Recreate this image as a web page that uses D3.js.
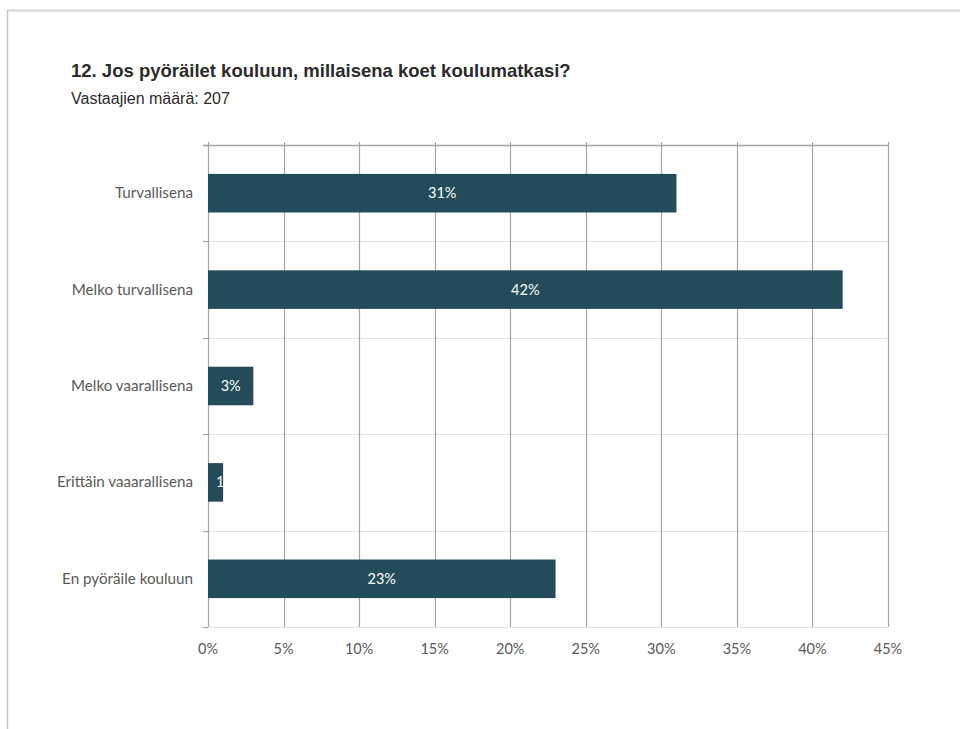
<!DOCTYPE html>
<html>
<head>
<meta charset="utf-8">
<script src="https://cdn.jsdelivr.net/npm/d3@7"></script>
<style>
  html, body { margin: 0; padding: 0; background: #fff; }
  svg { display: block; }
</style>
</head>
<body>
<svg id="chart" width="960" height="729"></svg>
<script>
// Survey answers and their shares (%)
const categories = ["Turvallisena", "Melko turvallisena", "Melko vaarallisena", "Erittäin vaaarallisena", "En pyöräile kouluun"];
const values = [31, 42, 3, 1, 23];
const xTicks = [0, 5, 10, 15, 20, 25, 30, 35, 40, 45];
const titleText = "12. Jos pyöräilet kouluun, millaisena koet koulumatkasi?";
const subtitleText = "Vastaajien määrä: 207";

const svg = d3.select("#chart");
const W = 960, H = 729;
const margin = { left: 208, right: 72, top: 145, bottom: 102 };
const labelFont = "Lato, 'Open Sans', sans-serif";
const textGray = "#595959";
const barColor = "#234B59";

// Page frame
svg.append("line").attr("x1", 7).attr("x2", W).attr("y1", 10.5).attr("y2", 10.5)
  .attr("stroke", "#d6d6d6").attr("stroke-width", 2);
svg.append("line").attr("x1", 7.5).attr("x2", 7.5).attr("y1", 10).attr("y2", H)
  .attr("stroke", "#c6c6c6").attr("stroke-width", 1.5);

// Title and subtitle
svg.append("text").attr("x", 71).attr("y", 77)
  .attr("font-family", "'Liberation Sans', Arial, sans-serif")
  .attr("font-size", 18.5).attr("font-weight", "bold").attr("fill", "#2b2b2b")
  .text(titleText);
svg.append("text").attr("x", 71).attr("y", 104)
  .attr("font-family", "'Liberation Sans', Arial, sans-serif")
  .attr("font-size", 16).attr("fill", "#2b2b2b")
  .text(subtitleText);

const x = d3.scaleLinear().domain([0, 45]).range([margin.left, W - margin.right]);
const y = d3.scaleBand().domain(categories).range([margin.top, H - margin.bottom]).paddingInner(0.6).paddingOuter(0.3);
const band = d3.scaleBand().domain(categories).range([margin.top, H - margin.bottom]);

const g = svg.append("g");

// Horizontal separators between categories
const bounds = categories.map(c => band(c)).concat([H - margin.bottom]);
g.selectAll("line.hsep").data(bounds).join("line")
  .attr("class", "hsep")
  .attr("x1", margin.left - 5).attr("x2", x(45))
  .attr("y1", d => Math.round(d) + 0.5).attr("y2", d => Math.round(d) + 0.5)
  .attr("stroke", (d, i) => i === 0 ? "#a6a6a6" : "#e3e3e3").attr("stroke-width", (d, i) => i === 0 ? 1.5 : 1.2);

// Tick marks on category axis
g.selectAll("line.ctick").data(bounds).join("line")
  .attr("class", "ctick")
  .attr("x1", margin.left - 5).attr("x2", margin.left)
  .attr("y1", d => Math.round(d) + 0.5).attr("y2", d => Math.round(d) + 0.5)
  .attr("stroke", "#a6a6a6").attr("stroke-width", 1.2);

// Vertical gridlines
g.selectAll("line.vgrid").data(xTicks).join("line")
  .attr("class", "vgrid")
  .attr("x1", d => Math.round(x(d)) + 0.5).attr("x2", d => Math.round(x(d)) + 0.5)
  .attr("y1", margin.top - 3).attr("y2", H - margin.bottom)
  .attr("stroke", "#a6a6a6").attr("stroke-width", 1.2);

// Bars
const defs = svg.append("defs");
categories.forEach((c, i) => {
  defs.append("clipPath").attr("id", "clip" + i)
    .append("rect").attr("x", x(0)).attr("y", y(c)).attr("width", x(values[i]) - x(0)).attr("height", y.bandwidth());
});

g.selectAll("rect.bar").data(categories).join("rect")
  .attr("class", "bar")
  .attr("x", x(0)).attr("y", d => y(d))
  .attr("width", (d, i) => x(values[i]) - x(0))
  .attr("height", y.bandwidth())
  .attr("fill", barColor);

// Value labels inside bars
g.selectAll("text.val").data(categories).join("text")
  .attr("class", "val")
  .attr("clip-path", (d, i) => `url(#clip${i})`)
  .attr("x", (d, i) => Math.max((x(0) + x(values[i])) / 2, x(0) + 18))
  .attr("y", d => y(d) + y.bandwidth() / 2 + 5)
  .attr("text-anchor", "middle")
  .attr("font-family", labelFont).attr("font-size", 14.5).attr("fill", "#ffffff")
  .text((d, i) => values[i] + "%");

// Category labels
g.selectAll("text.cat").data(categories).join("text")
  .attr("class", "cat")
  .attr("x", margin.left - 15)
  .attr("y", d => band(d) + band.bandwidth() / 2 + 5)
  .attr("text-anchor", "end")
  .attr("font-family", labelFont).attr("font-size", 15.2).attr("fill", textGray)
  .text(d => d);

// X-axis tick labels
g.selectAll("text.xt").data(xTicks).join("text")
  .attr("class", "xt")
  .attr("x", d => x(d))
  .attr("y", H - margin.bottom + 27)
  .attr("text-anchor", "middle")
  .attr("font-family", labelFont).attr("font-size", 14.5).attr("fill", textGray)
  .text(d => d + "%");
</script>
</body>
</html>
